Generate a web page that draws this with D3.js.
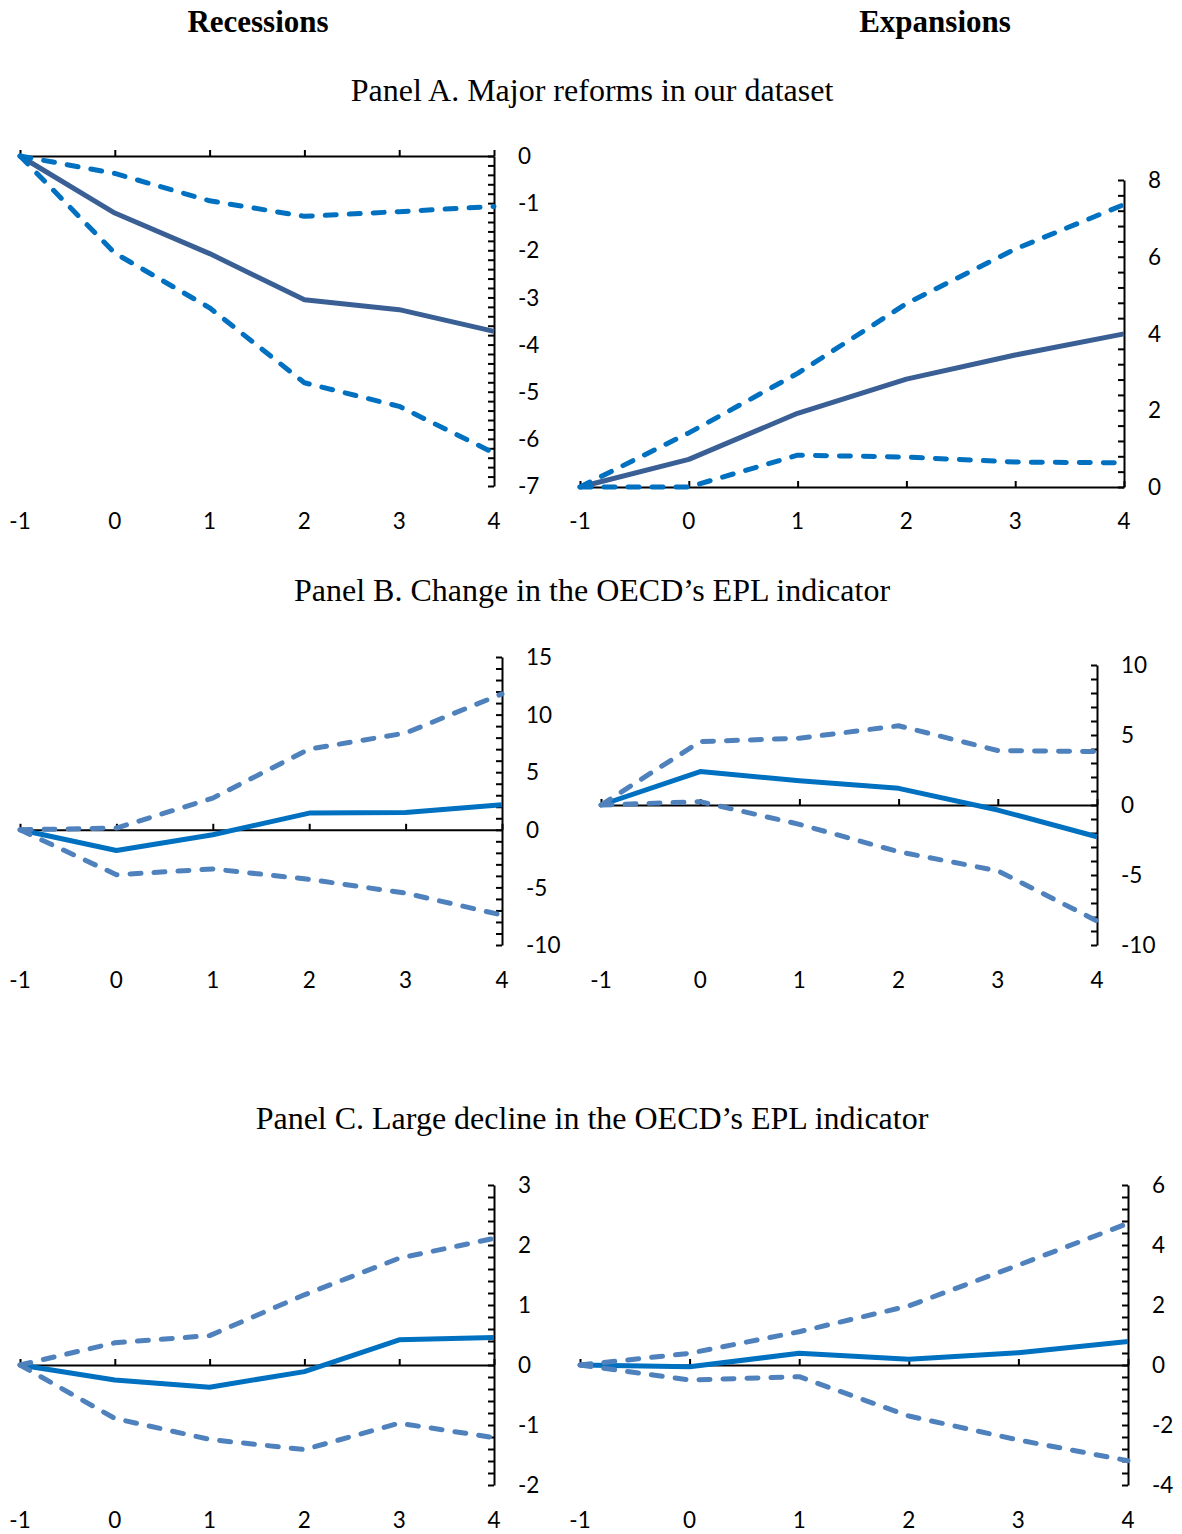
<!DOCTYPE html>
<html>
<head>
<meta charset="utf-8">
<script src="https://cdn.jsdelivr.net/npm/d3@7"></script>
<style>
  html, body { margin: 0; padding: 0; background: #fff; }
  svg { display: block; }
</style>
</head>
<body>
<svg id="chart" width="1182" height="1534"></svg>
<script>
// ---------- data ----------
const horizons = [-1, 0, 1, 2, 3, 4];
const xTickLabels = ["-1", "0", "1", "2", "3", "4"];

const columnHeaders = ["Recessions", "Expansions"];
const panelTitles = [
  "Panel A. Major reforms in our dataset",
  "Panel B. Change in the OECD\u2019s EPL indicator",
  "Panel C. Large decline in the OECD\u2019s EPL indicator"
];

// Panel A – recessions
const aRecEst   = [0, -1.21, -2.07, -3.05, -3.26, -3.72];
const aRecUpper = [0, -0.37, -0.95, -1.28, -1.18, -1.07];
const aRecLower = [0, -2.06, -3.22, -4.81, -5.31, -6.30];
const aRecTicks = [0, -1, -2, -3, -4, -5, -6, -7];
// Panel A – expansions
const aExpEst   = [0, 0.72, 1.92, 2.81, 3.44, 3.99];
const aExpUpper = [0, 1.41, 2.96, 4.78, 6.20, 7.36];
const aExpLower = [0, 0.00, 0.83, 0.78, 0.65, 0.63];
const aExpTicks = [0, 2, 4, 6, 8];

// Panel B – recessions
const bRecEst   = [0, -1.8, -0.43, 1.45, 1.50, 2.17];
const bRecUpper = [0, 0.15, 2.75, 7.0, 8.4, 11.8];
const bRecLower = [0, -3.9, -3.4, -4.3, -5.5, -7.4];
const bRecTicks = [-10, -5, 0, 5, 10, 15];
// Panel B – expansions
const bExpEst   = [0, 2.39, 1.74, 1.19, -0.36, -2.27];
const bExpUpper = [0, 4.53, 4.77, 5.66, 3.89, 3.82];
const bExpLower = [0, 0.24, -1.38, -3.34, -4.70, -8.28];
const bExpTicks = [-10, -5, 0, 5, 10];

// Panel C – recessions
const cRecEst   = [0, -0.25, -0.37, -0.11, 0.42, 0.46];
const cRecUpper = [0, 0.37, 0.49, 1.17, 1.78, 2.11];
const cRecLower = [0, -0.89, -1.24, -1.41, -0.97, -1.21];
const cRecTicks = [-2, -1, 0, 1, 2, 3];
// Panel C – expansions
const cExpEst   = [0, -0.06, 0.39, 0.19, 0.41, 0.78];
const cExpUpper = [0, 0.39, 1.11, 1.97, 3.33, 4.72];
const cExpLower = [0, -0.50, -0.39, -1.70, -2.50, -3.19];
const cExpTicks = [-4, -2, 0, 2, 4, 6];

// ---------- layout ----------
const svg = d3.select("#chart");
const serif = "'Liberation Serif', 'Times New Roman', serif";
const sans = "Lato, 'Open Sans', 'Liberation Sans', sans-serif";

const colA = { est: "#3A5F95", band: "#0070C0" };
const colBC = { est: "#0070C0", band: "#4F81BD" };

const panels = [
  { est: aRecEst, up: aRecUpper, lo: aRecLower, ticks: aRecTicks, minor: 0.2,
    x0: 20, x1: 494, yTop: 156, yBot: 486, xLabY: 521, col: colA },
  { est: aExpEst, up: aExpUpper, lo: aExpLower, ticks: aExpTicks, minor: 0.4,
    x0: 580, x1: 1124, yTop: 180, yBot: 487, xLabY: 521, col: colA },
  { est: bRecEst, up: bRecUpper, lo: bRecLower, ticks: bRecTicks, minor: 1,
    x0: 20, x1: 502, yTop: 657, yBot: 945, xLabY: 980, col: colBC },
  { est: bExpEst, up: bExpUpper, lo: bExpLower, ticks: bExpTicks, minor: 1,
    x0: 601, x1: 1097, yTop: 665, yBot: 945, xLabY: 980, col: colBC },
  { est: cRecEst, up: cRecUpper, lo: cRecLower, ticks: cRecTicks, minor: 0.2,
    x0: 20, x1: 494, yTop: 1185, yBot: 1485, xLabY: 1520, col: colBC },
  { est: cExpEst, up: cExpUpper, lo: cExpLower, ticks: cExpTicks, minor: 0.4,
    x0: 580, x1: 1128, yTop: 1185, yBot: 1485, xLabY: 1520, col: colBC }
];

// headers
svg.append("text").attr("x", 258).attr("y", 32).attr("text-anchor", "middle")
  .attr("font-family", serif).attr("font-weight", "bold").attr("font-size", 31)
  .text(columnHeaders[0]);
svg.append("text").attr("x", 935).attr("y", 32).attr("text-anchor", "middle")
  .attr("font-family", serif).attr("font-weight", "bold").attr("font-size", 31)
  .text(columnHeaders[1]);

const titleY = [101, 601, 1129];
panelTitles.forEach((t, i) => {
  svg.append("text").attr("x", 592).attr("y", titleY[i]).attr("text-anchor", "middle")
    .attr("font-family", serif).attr("font-size", 32).text(t);
});

panels.forEach(p => {
  const lo = d3.min(p.ticks), hi = d3.max(p.ticks);
  const x = d3.scaleLinear().domain([-1, 4]).range([p.x0, p.x1]);
  const y = d3.scaleLinear().domain([lo, hi]).range([p.yBot, p.yTop]);
  const g = svg.append("g");

  // y axis: minor + major ticks pointing left, labels on the right
  const nMinor = Math.round((hi - lo) / p.minor);
  const minorVals = d3.range(nMinor + 1).map(i => lo + i * p.minor);
  const yAxis = d3.axisLeft(y).tickValues(minorVals).tickSize(6).tickSizeOuter(0).tickFormat("");
  const ya = g.append("g").attr("transform", `translate(${p.x1},0)`).call(yAxis);
  ya.selectAll("path, line").attr("stroke", "#000").attr("stroke-width", 2);

  g.selectAll(".ylab").data(p.ticks).enter().append("text")
    .attr("x", p.x1 + 24).attr("y", d => y(d)).attr("dy", "0.36em")
    .attr("font-family", sans).attr("font-size", 22.5).attr("fill", "#000")
    .text(d => String(d));

  // x axis at y = 0, ticks pointing up, labels at the bottom
  const xAxis = d3.axisTop(x).tickValues(horizons).tickSize(6).tickSizeOuter(0).tickFormat("");
  const xa = g.append("g").attr("transform", `translate(0,${y(0)})`).call(xAxis);
  xa.selectAll("path, line").attr("stroke", "#000").attr("stroke-width", 2);

  g.selectAll(".xlab").data(horizons).enter().append("text")
    .attr("x", d => x(d)).attr("y", p.xLabY).attr("dy", "0.36em").attr("text-anchor", "middle")
    .attr("font-family", sans).attr("font-size", 22.5).attr("fill", "#000")
    .text((d, i) => xTickLabels[i]);

  const line = d3.line().x((d, i) => x(horizons[i])).y(d => y(d));

  g.append("path").datum(p.est).attr("d", line).attr("fill", "none")
    .attr("stroke", p.col.est).attr("stroke-width", 5).attr("stroke-linejoin", "round");
  [p.up, p.lo].forEach(s => {
    g.append("path").datum(s).attr("d", line).attr("fill", "none")
      .attr("stroke", p.col.band).attr("stroke-width", 5)
      .attr("stroke-dasharray", "11 13").attr("stroke-linecap", "round")
      .attr("stroke-linejoin", "round");
  });
});
</script>
</body>
</html>
